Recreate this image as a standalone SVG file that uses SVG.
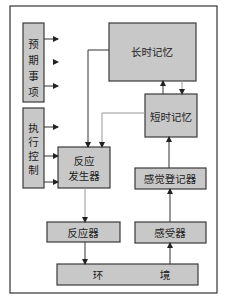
<svg xmlns="http://www.w3.org/2000/svg" width="226" height="300" viewBox="0 0 226 300">
<style>
.box{fill:#c8c8c8;stroke:#3a3a3a;stroke-width:1.2}
.t{font-family:"Noto Sans CJK SC","Noto Sans",sans-serif;font-size:10.5px;fill:#222;text-anchor:middle;dominant-baseline:central}
.c{fill:none;stroke:#333;stroke-width:1}
.f{fill:none;stroke:#999;stroke-width:1}
</style>
<defs>
<marker id="a" markerWidth="6" markerHeight="6" refX="5" refY="3" orient="auto" markerUnits="userSpaceOnUse"><path d="M0,0 L6,3 L0,6 z" fill="#222"/></marker>
</defs>
<rect x="0" y="0" width="226" height="300" fill="#fff"/>
<rect x="10" y="6" width="207" height="287" fill="none" stroke="#333" stroke-width="1.2"/>
<g id="yuqi"><rect class="box" x="23" y="23" width="21" height="79"/><text class="t" x="33.5" y="43">预</text><text class="t" x="33.5" y="59">期</text><text class="t" x="33.5" y="75">事</text><text class="t" x="33.5" y="91">项</text></g>
<g id="zhixing"><rect class="box" x="23" y="108" width="21" height="80"/><text class="t" x="33.5" y="127">执</text><text class="t" x="33.5" y="141">行</text><text class="t" x="33.5" y="155">控</text><text class="t" x="33.5" y="169">制</text></g>
<g id="changshi"><rect class="box" x="109" y="23" width="87" height="58"/><text class="t" x="152" y="51">长时记忆</text></g>
<g id="duanshi"><rect class="box" x="145" y="94" width="52" height="43"/><text class="t" x="171" y="116">短时记忆</text></g>
<g id="fanyingfasheng"><rect class="box" x="58" y="147" width="52" height="41"/><text class="t" x="84" y="160">反应</text><text class="t" x="84" y="175">发生器</text></g>
<g id="ganjue"><rect class="box" x="135" y="168" width="71" height="21"/><text class="t" x="170" y="178.5">感觉登记器</text></g>
<g id="fanyingqi"><rect class="box" x="47" y="222" width="73" height="20"/><text class="t" x="83" y="232">反应器</text></g>
<g id="ganshou"><rect class="box" x="135" y="222" width="71" height="21"/><text class="t" x="170" y="232.5">感受器</text></g>
<g id="huanjing"><rect class="box" x="57" y="264" width="141" height="21"/><text class="t" x="98" y="274.5">环</text><text class="t" x="165" y="274.5">境</text></g>
<g id="connectors">
<path class="c" d="M44,39 H58" marker-end="url(#a)"/>
<path class="f" d="M53,62 H58" marker-end="url(#a)"/>
<path class="c" d="M44,86 H58" marker-end="url(#a)"/>
<path class="c" d="M44,127 H58" marker-end="url(#a)"/>
<path class="c" d="M44,156 H58" marker-end="url(#a)"/>
<path class="c" d="M44,182 H58" marker-end="url(#a)"/>
<path class="c" d="M109,50 H88 V147" marker-end="url(#a)"/>
<path class="f" d="M145,113 H102 V147" stroke="#666" marker-end="url(#a)"/>
<path class="c" d="M163,94 V81" marker-end="url(#a)"/>
<path class="f" d="M182,81 V94" marker-end="url(#a)"/>
<path class="c" d="M169,168 V137" marker-end="url(#a)"/>
<path class="c" d="M170,222 V189" marker-end="url(#a)"/>
<path class="c" d="M170,264 V243" marker-end="url(#a)"/>
<path class="f" d="M85,188 V222" marker-end="url(#a)"/>
<path class="c" d="M85,242 V264" marker-end="url(#a)"/>
</g>
</svg>
